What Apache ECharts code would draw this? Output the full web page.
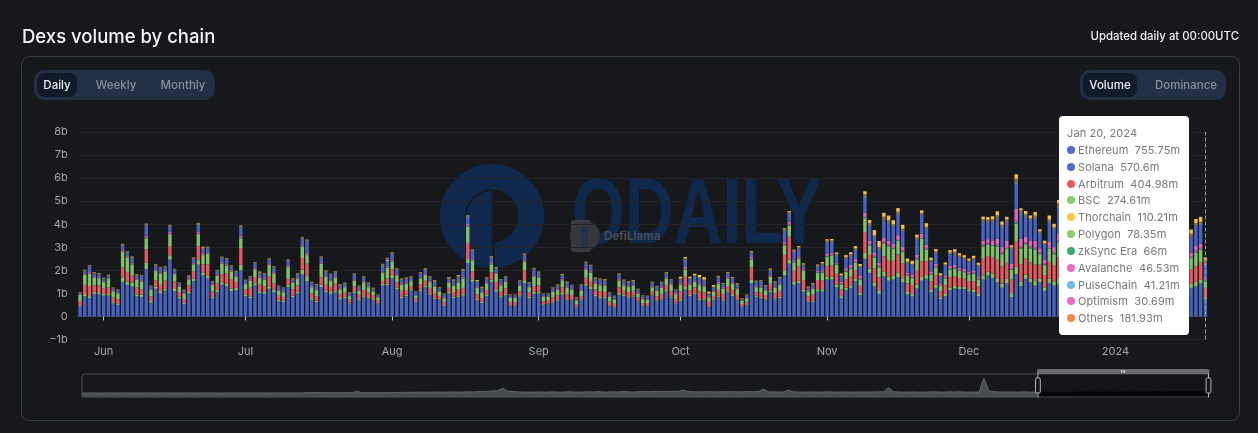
<!DOCTYPE html>
<html><head><meta charset="utf-8">
<style>html,body{margin:0;padding:0;background:#16181c;}#c{width:1258px;height:433px;}</style>
<script src="https://cdn.jsdelivr.net/npm/echarts@6/dist/echarts.min.js"></script>
</head><body><div id="c"></div>
<script>
const startDate = Date.UTC(2023, 4, 27);
const categories = [];
for (let i = 0; i < 239; i++) categories.push(new Date(startDate + i * 864e5).toISOString().slice(0, 10));
const monthLabels = {'2023-06-01':'Jun','2023-07-01':'Jul','2023-08-01':'Aug','2023-09-01':'Sep','2023-10-01':'Oct','2023-11-01':'Nov','2023-12-01':'Dec','2024-01-01':'2024'};

const ethereum = [
450,870,800,980,970,900,900,560,500,1500,
1370,1300,880,850,2060,600,1200,1000,1120,2460,
1100,780,530,1000,1530,2250,1780,1650,780,1050,
1380,1300,1100,1130,2000,880,800,1340,1020,980,
1200,1050,660,620,1270,840,1000,1820,1530,720,
620,1270,1050,980,1050,740,800,560,1020,690,
850,780,700,520,1340,1350,1670,1170,790,880,
1120,620,1100,1270,940,760,700,450,1000,800,
850,900,2320,1500,700,580,880,1500,1070,820,
920,450,450,860,1450,790,980,1000,500,530,
590,680,950,700,700,390,690,1340,1190,880,
780,800,450,390,940,890,780,860,650,450,
450,910,660,730,1080,810,560,680,1170,880,
980,700,700,420,700,850,680,1050,880,700,
420,500,1450,850,790,700,1050,730,790,1780,
2290,1380,1450,1070,620,630,1090,1080,1600,1600,
1270,800,1140,1240,1530,920,2500,1890,1310,980,
1740,1550,1600,1700,1480,950,860,1210,1550,1640,
1050,1240,750,880,1140,1210,1180,1190,1090,1050,
880,1600,1770,1670,1480,1250,1450,830,1830,1310,
1630,1480,1340,1480,1110,1450,1340,1400,1300,1250,
1150,1380,1500,1420,1280,1100,1050,1330,1460,1400,
1520,1610,1480,1260,1180,1440,1550,1620,1500,1340,
1200,1130,1360,1450,1380,1240,1310,1450,755.75];
const polygon = [
40,100,80,90,80,80,70,60,70,170,
140,170,80,100,260,70,100,100,80,190,
90,80,60,60,100,190,130,110,60,90,
100,110,100,110,240,80,70,100,80,100,
110,120,70,70,110,70,80,210,220,70,
70,110,80,80,70,60,60,40,70,60,
70,60,50,40,70,80,130,90,60,70,
60,40,60,70,60,50,40,40,60,60,
70,90,170,110,60,50,60,90,80,60,
60,30,30,60,120,60,90,70,30,30,
40,40,70,50,40,30,50,90,90,50,
60,50,30,30,80,50,50,50,30,30,
30,40,40,50,60,50,30,70,110,50,
50,60,50,30,50,60,40,50,50,40,
20,30,150,50,60,40,60,50,60,220,
170,120,100,80,40,50,90,100,120,120,
120,80,110,110,110,90,260,190,170,160,
190,180,170,210,180,110,110,170,170,160,
100,130,80,100,120,110,100,90,90,110,
90,180,170,190,180,180,180,180,320,200,
180,170,190,170,150,200,180,260,180,170,
150,190,210,190,170,140,130,180,200,190,
210,220,200,160,150,190,210,230,200,180,
150,140,180,200,190,170,190,160,78.35];
const arbitrum = [
180,400,440,270,300,230,300,200,170,450,
420,300,300,220,600,210,270,270,350,380,
320,200,170,290,320,610,350,500,240,300,
350,470,420,250,720,210,380,270,280,230,
420,260,170,160,250,270,260,500,540,210,
180,310,250,220,300,160,200,130,220,190,
230,190,150,120,130,220,240,220,260,200,
140,120,220,210,240,210,150,120,180,200,
240,240,700,350,200,170,210,310,340,190,
240,150,140,160,430,200,240,280,130,120,
190,200,240,210,190,110,150,250,250,240,
240,210,170,130,240,190,210,200,140,100,
100,120,170,200,220,240,170,340,440,210,
230,330,280,180,140,240,260,220,220,190,
100,110,520,150,180,190,310,220,260,670,
1000,480,620,430,220,270,400,380,470,500,
460,280,370,380,370,320,900,590,600,560,
680,690,640,780,640,380,390,600,680,600,
370,420,270,370,430,430,390,360,350,370,
340,720,680,700,800,730,700,590,1100,760,
700,700,720,600,540,720,680,900,680,640,
560,720,790,740,650,520,480,690,760,720,
800,850,770,610,570,740,820,880,780,680,
580,530,690,760,710,620,680,720,404.98];
const bsc = [
260,440,540,350,310,280,370,270,260,680,
610,480,340,340,470,280,400,470,400,540,
320,240,220,260,310,520,400,470,280,320,
460,320,330,230,430,230,310,340,310,290,
500,410,220,200,510,270,300,490,370,270,
270,590,330,250,270,220,210,150,230,190,
330,240,180,150,340,460,340,300,270,280,
210,130,260,250,250,260,180,180,230,260,
300,420,700,470,290,240,270,360,350,280,
290,180,180,240,380,220,420,320,190,170,
240,240,310,290,230,160,230,360,370,260,
270,280,200,180,290,220,240,220,180,170,
150,200,240,270,290,280,210,290,320,240,
250,270,260,200,190,270,230,310,280,250,
130,150,350,220,220,200,300,240,280,420,
480,340,320,410,210,250,300,340,400,420,
380,230,310,320,310,270,600,400,480,430,
550,620,520,580,490,320,300,490,960,500,
300,340,220,290,350,320,300,280,270,320,
280,540,500,500,560,540,600,420,780,680,
620,600,640,450,420,560,500,640,520,480,
420,560,600,560,500,400,380,530,570,540,
620,640,580,460,430,570,610,660,590,520,
440,400,530,570,540,500,580,560,274.61];
const zksync = [
10,15,15,15,15,10,15,10,10,20,
20,20,15,15,25,10,15,15,15,20,
15,10,10,15,15,25,20,15,10,15,
15,20,15,15,25,10,15,15,15,15,
15,15,10,10,15,15,15,20,20,10,
10,15,15,15,15,10,10,10,15,10,
15,10,10,10,15,15,20,15,15,15,
10,10,15,15,15,15,10,10,15,15,
15,20,25,20,15,10,15,20,15,15,
15,10,10,15,20,15,15,15,10,10,
10,15,15,15,10,10,15,15,20,15,
15,15,10,10,15,15,15,15,10,10,
10,15,15,15,15,15,10,20,25,15,
15,20,20,15,15,15,15,20,15,15,
10,10,25,15,20,15,20,15,20,35,
40,30,30,25,15,20,25,25,30,30,
30,20,25,30,25,25,45,40,35,35,
40,40,35,40,35,25,25,35,40,35,
25,25,20,25,30,30,25,25,25,25,
25,40,40,40,45,40,40,35,60,45,
40,40,45,35,35,40,40,50,45,40,
35,45,50,45,40,35,35,40,45,45,
50,50,45,40,35,45,50,50,45,40,
35,35,40,45,45,40,45,45,66];
const optimism = [
15,25,25,25,20,20,25,20,15,35,
30,30,25,25,40,20,25,25,25,35,
25,20,20,20,25,35,30,25,20,25,
25,30,25,25,40,20,25,25,25,25,
25,30,20,20,30,20,25,35,35,20,
20,30,25,25,25,20,20,15,25,20,
25,20,20,15,25,30,30,25,25,25,
20,15,25,25,25,25,20,20,25,25,
25,30,40,30,25,20,25,30,25,25,
25,15,15,25,30,20,30,25,15,15,
20,20,25,25,20,15,20,30,30,25,
25,25,20,15,25,25,25,20,20,15,
15,20,20,25,25,25,20,25,35,25,
25,25,25,20,20,25,25,25,25,25,
15,15,35,25,25,20,30,25,25,40,
45,35,35,30,20,25,30,30,35,35,
30,30,30,30,30,30,50,40,40,40,
45,40,40,45,40,30,30,40,40,40,
30,30,25,30,30,30,30,30,30,30,
30,40,40,40,50,45,45,40,70,50,
45,45,50,40,40,45,45,50,45,40,
35,45,50,45,40,35,35,40,45,45,
50,50,45,40,35,45,50,50,45,40,
35,35,40,45,45,40,45,40,30.69];
const avalanche = [
15,25,30,25,25,20,20,20,20,40,
35,35,25,25,50,20,30,30,25,45,
25,20,20,20,30,50,35,30,20,25,
30,35,30,30,55,20,25,30,25,30,
30,35,20,20,30,25,25,45,45,20,
20,30,25,25,25,20,20,15,25,20,
25,20,20,15,30,35,40,30,25,25,
20,15,25,25,25,25,20,20,25,25,
30,35,50,35,25,20,25,35,30,25,
25,15,15,25,40,25,30,30,15,15,
20,20,30,25,20,15,25,35,35,25,
25,25,20,15,30,25,25,25,20,15,
15,20,25,25,30,25,20,30,45,25,
25,35,30,20,20,30,25,30,30,25,
15,20,45,25,25,25,35,25,30,70,
80,50,55,40,25,25,40,45,60,60,
30,70,110,120,110,100,150,130,150,130,
180,170,150,170,150,90,90,130,150,130,
80,90,60,80,100,100,90,90,80,90,
90,160,150,160,260,240,260,180,500,320,
250,240,300,180,170,240,220,300,220,200,
170,240,260,240,200,150,140,210,250,230,
260,280,250,190,170,240,270,290,250,220,
180,160,220,240,230,150,200,180,46.53];
const solana = [
20,70,220,90,80,70,50,60,70,150,
110,180,90,150,410,70,150,160,100,200,
90,70,70,40,150,260,170,140,70,120,
150,170,120,110,340,80,60,160,90,130,
140,180,110,100,180,80,90,230,470,120,
160,160,140,180,130,90,80,70,180,100,
130,90,50,30,210,200,220,160,120,130,
80,90,140,140,100,140,90,100,80,130,
160,210,280,300,170,120,140,180,150,140,
100,50,60,110,170,100,220,120,60,60,
90,110,120,120,100,50,140,170,170,120,
140,120,90,80,160,100,100,90,90,80,
80,120,90,120,110,110,100,140,300,170,
170,200,170,80,110,180,110,130,130,110,
30,60,160,140,180,110,170,130,150,460,
320,340,320,110,70,90,170,240,490,450,
320,230,400,380,380,350,650,650,600,560,
750,750,720,860,660,400,400,640,800,680,
420,470,300,410,490,490,440,410,400,450,
420,820,720,780,880,820,800,620,1100,1100,
860,860,950,620,600,800,740,1100,780,740,
640,840,900,850,740,600,560,800,870,830,
920,980,890,710,660,860,930,1010,900,790,
680,620,810,870,830,690,860,820,570.6];
const pulsechain = [
5,10,10,10,10,5,5,5,5,15,
10,10,5,10,15,5,10,10,5,15,
10,5,5,5,10,15,10,10,5,10,
10,10,10,10,15,5,5,10,10,10,
10,10,5,5,10,5,5,15,15,5,
5,10,10,10,10,5,5,5,10,5,
10,5,5,5,50,80,25,15,10,10,
10,5,10,10,10,10,5,5,10,10,
10,10,15,15,10,5,10,10,10,10,
10,5,5,10,10,5,10,10,5,5,
5,5,10,10,5,5,10,10,10,5,
10,10,5,5,10,5,5,10,5,5,
5,5,10,10,10,5,5,10,15,5,
5,10,10,5,5,10,5,10,10,5,
5,5,15,10,10,5,10,10,10,20,
20,15,15,10,5,10,10,10,15,15,
15,10,15,15,15,10,25,20,20,20,
20,25,20,25,20,15,15,20,20,20,
15,15,10,15,15,15,15,15,15,15,
15,20,20,25,25,25,25,20,35,25,
20,25,25,20,20,25,25,30,25,25,
20,25,30,25,25,20,20,25,25,25,
30,30,25,20,20,25,30,30,25,25,
20,20,25,25,25,20,25,25,41.21];
const others = [
40,60,60,55,55,50,50,45,45,70,
65,60,50,50,80,45,55,55,50,70,
50,45,45,50,55,75,60,60,45,50,
55,55,50,50,75,45,50,55,50,50,
55,55,45,45,55,45,50,65,70,45,
45,55,50,50,50,40,45,40,50,45,
50,45,40,40,55,60,60,50,45,45,
45,35,50,50,45,45,40,40,45,45,
50,55,80,65,45,40,45,55,50,45,
45,35,35,45,60,45,55,50,35,35,
40,40,50,45,40,35,40,55,55,45,
50,45,40,35,50,45,45,45,40,35,
35,40,40,45,50,45,40,50,60,45,
45,50,50,35,40,50,45,50,45,45,
30,35,60,45,45,40,50,45,50,80,
85,65,65,55,40,45,55,60,70,70,
60,50,70,70,70,70,120,110,110,100,
130,110,100,130,110,60,60,90,80,90,
60,60,50,60,70,70,70,70,70,70,
70,100,100,110,110,110,110,90,180,120,
100,110,110,90,90,120,110,180,110,100,
90,110,120,110,100,80,80,110,120,110,
120,130,110,90,90,120,120,140,110,100,
90,80,100,120,110,120,110,110,181.93];
const thorchain = [
10,10,10,15,20,15,10,10,10,15,
15,15,20,15,15,10,15,15,15,20,
15,10,10,15,15,20,40,15,10,15,
15,15,15,20,15,10,15,15,40,20,
15,15,10,10,15,15,20,15,15,10,
10,15,15,15,15,25,15,15,15,10,
15,15,20,10,15,15,15,15,20,15,
20,10,20,20,20,25,15,10,30,30,
40,35,15,15,40,30,20,20,25,15,
15,10,10,15,15,15,15,25,10,10,
15,15,25,20,15,15,15,20,20,20,
25,30,15,10,20,30,25,30,15,10,
10,15,15,15,25,15,15,70,60,60,
60,100,110,70,70,30,20,30,30,30,
15,15,30,20,20,20,40,25,30,30,
40,40,40,40,30,30,40,50,60,60,
60,60,80,90,100,90,130,120,230,260,
170,200,180,160,170,130,130,120,110,150,
100,100,90,80,100,110,100,100,90,100,
90,110,120,130,170,140,110,80,190,80,
130,110,160,100,110,180,140,140,130,140,
110,160,170,150,120,110,100,140,160,150,
180,190,170,120,110,160,170,200,170,130,
120,110,150,160,150,180,180,210,110.21];

/* all-time overview shown behind the range slider */
const historyValues = [
.1,.1,.2,.1,.1,.2,.1,.1,.2,.1,.1,.2,.1,.2,.1,.1,.2,.1,.1,.2,
.1,.2,.1,.1,.2,.1,.2,.1,.1,.2,.1,.2,.1,.2,.2,.1,.2,.1,.2,.2,
.2,.1,.2,.2,.2,.5,.6,.5,.5,.4,.4,.4,.4,.5,.4,1.8,.4,.4,.4,.5,
.4,.5,.5,.6,.7,.8,.8,1.0,.9,.8,1.0,1.1,1.0,.9,1.2,1.1,1.0,1.3,1.2,1.5,
1.6,1.8,2.2,2.4,5.0,2.0,1.6,1.3,1.1,1.0,1.0,1.2,1.1,1.0,1.3,1.1,1.0,1.4,1.2,1.0,
1.1,1.3,1.2,1.5,1.2,1.1,1.3,1.2,1.6,1.3,1.2,1.4,1.7,1.4,1.5,1.8,1.6,1.5,2.0,1.7,
3.0,1.6,1.4,1.2,1.3,1.5,1.2,1.3,1.4,1.3,1.5,1.2,1.4,1.6,1.4,1.5,4.0,1.3,1.2,1.2,
1.2,3.0,1.3,1.1,1.0,1.1,1.2,1.0,1.1,1.3,1.0,1.1,1.2,1.0,1.1,1.2,1.0,1.2,1.2,1.3,
1.4,5.5,1.4,1.2,1.0,1.1,1.2,1.0,.9,1.2,1.4,1.1,1.0,1.3,1.2,1.4,1.2,1.0,1.1,1.0,
15,2.2,1.5,1.2,1.1,1.1,1.2,1.0,1.3,1.1,1.0,.8,.9,1.0,.8,1.1,.9,1.0,1.0,1.1,
1.3,1.1,1.2,1.0,1.1,1.2,1.0,1.1,1.3,1.1,1.2,1.4,1.3,1.1,1.5,1.2,1.3,1.4,1.6,1.5,
1.4,1.7,1.5,1.6,1.4,1.2];

const seriesNames = ['Ethereum','Polygon','Arbitrum','BSC','zkSync Era','Optimism','Avalanche','Solana','PulseChain','Others','Thorchain'];
const seriesData = [ethereum,polygon,arbitrum,bsc,zksync,optimism,avalanche,solana,pulsechain,others,thorchain];
const barColors = ['#4863bb','#82c06c','#e2595f','#82c06c','#3b9e6c','#d966c0','#dc68bc','#4a63c2','#68b8e0','#85705f','#f8c045'];
const dotColors = {Ethereum:'#4f6bce',Polygon:'#8ccb6f',Arbitrum:'#ef5b60',BSC:'#8ccb6f','zkSync Era':'#3fa873',Optimism:'#e86cc8',Avalanche:'#e86cc8',Solana:'#4f6bce',PulseChain:'#6cbde6',Others:'#f58549',Thorchain:'#fcc84c'};
const yMin = -1000, yMax = 8000, yStep = 1000;

seriesData.forEach((a,i)=>{ if(a.length!==239) throw new Error(seriesNames[i]+' length '+a.length); });

const isMonthStart = (i, v) => !!monthLabels[v];
const fmtM = v => (Math.round(v*100)/100) + 'm';

const tooltipFormatter = params => {
  const idx = params[0].dataIndex;
  const rows = seriesNames.map((n,i)=>({n, v:seriesData[i][idx]}));
  const rest = rows.filter(r=>r.n!=='Others').sort((a,b)=>b.v-a.v);
  const list = rest.concat(rows.filter(r=>r.n==='Others'));
  const d = new Date(categories[idx]+'T00:00:00Z');
  const head = d.toLocaleDateString('en-US',{month:'short',day:'numeric',year:'numeric',timeZone:'UTC'});
  return '<div style="color:#777;font:11px/16.85px Inter,sans-serif;letter-spacing:.1px;white-space:nowrap">'+
    '<div>'+head+'</div>'+list.map(r=>'<div><span style="display:inline-block;width:8px;height:8px;border-radius:50%;margin-right:3px;background:'+dotColors[r.n]+'"></span>'+r.n+'&nbsp;&nbsp;'+fmtM(r.v)+'</div>').join('')+'</div>';
};

const TXT = (text,x,y,fill,font,align) => ({type:'text',z:-1,silent:true,style:{text,x,y,fill,font,textAlign:align||'left',textVerticalAlign:'middle'}});
const RR = (x,y,w,h,r,fill,stroke) => ({type:'rect',z:-5,silent:true,shape:{x,y,width:w,height:h,r},style:{fill:fill||'transparent',stroke:stroke||null,lineWidth:1}});
const logoColor = '#11284d', bg = '#16181c';

const graphic = [
  RR(21.5,56.5,1218,364,8,'transparent','#3d3f47'),
  TXT('Dexs volume by chain',22,37,'#f4f4f5','500 18.5px Inter'),
  TXT('Updated daily at 00:00UTC',1239,37,'#f0f0f2','500 11.4px Inter','right'),
  RR(34,70,181,30,10,'#222f44'),
  RR(37,73,40,24,8,'#111a28'),
  TXT('Daily',57,85.5,'#eceef2','500 11.5px Inter','center'),
  TXT('Weekly',116,85.5,'#8b919c','500 11.5px Inter','center'),
  TXT('Monthly',183,85.5,'#8b919c','500 11.5px Inter','center'),
  RR(1080,70,146,30,10,'#222f44'),
  RR(1083,73,54,24,8,'#111a28'),
  TXT('Volume',1110,85.5,'#eceef2','500 11.5px Inter','center'),
  TXT('Dominance',1186,85.5,'#8b919c','500 11.5px Inter','center'),
  /* ODAILY watermark */
  {type:'circle',z:-3,silent:true,shape:{cx:492,cy:216,r:52},style:{fill:logoColor}},
  {type:'sector',z:-3,silent:true,shape:{cx:492,cy:216,r:26.5,r0:0,startAngle:-Math.PI/2,endAngle:Math.PI/2},style:{fill:bg}},
  {type:'arc',z:-3,silent:true,shape:{cx:492,cy:216,r:26,startAngle:Math.PI,endAngle:Math.PI*1.5},style:{stroke:bg,lineWidth:1.4,fill:null}},
  {type:'rect',z:-3,silent:true,shape:{x:492,y:240,width:3,height:27},style:{fill:bg}},
  {type:'rect',z:-3,silent:true,shape:{x:465.5,y:216,width:1.4,height:54},style:{fill:bg}},
  {type:'text',z:-3,silent:true,x:572,y:218,scaleX:.77,scaleY:1.05,style:{text:'ODAILY',x:0,y:0,fill:logoColor,font:'bold 88px "Liberation Sans Narrow","Liberation Sans"',textAlign:'left',textVerticalAlign:'middle'}},
  /* DefiLlama watermark */
  {type:'rect',z:-2,silent:true,shape:{x:571,y:220,width:20,height:32,r:3},style:{fill:'#3b3d42'}},
  {type:'circle',z:-2,silent:true,shape:{cx:585,cy:236,r:15},style:{fill:'#35373c'}},
  {type:'rect',z:-2,silent:true,shape:{x:581,y:226,width:7,height:22,r:3},style:{fill:'#23304a'}},
  TXT('DefiLlama',604,237,'#494d55','700 11.5px Inter')
];

const series = seriesNames.map((name,i)=>({
  name, type:'bar', stack:'vol', data:seriesData[i], barWidth:'72%',
  xAxisIndex:0, yAxisIndex:0, z:3,
  itemStyle:{color:barColors[i]}, emphasis:{disabled:true}
}));
series.push({name:'All time', type:'line', xAxisIndex:1, yAxisIndex:1, data:historyValues,
  showSymbol:false, silent:true, lineStyle:{opacity:0}, tooltip:{show:false}});

const chart = echarts.init(document.getElementById('c'), null, {renderer:'canvas'});
chart.setOption({
  animation:false,
  backgroundColor:bg,
  textStyle:{fontFamily:'Inter'},
  graphic,
  grid:[
    {left:77.7,width:1130,top:132,height:207.5},
    {left:82,width:1126,top:374,height:24,show:false}
  ],
  xAxis:[
    {type:'category',gridIndex:0,data:categories,boundaryGap:true,
      axisLine:{onZero:true,lineStyle:{color:'#3f4450',width:1}},
      axisTick:{show:true,interval:isMonthStart,alignWithLabel:true,length:4,lineStyle:{color:'#bfc1c6'}},
      axisLabel:{interval:isMonthStart,margin:7,color:'#a4a6ab',fontSize:11,fontFamily:'Inter',formatter:v=>monthLabels[v]||'',hideOverlap:false},
      splitLine:{show:false},
      axisPointer:{show:true,type:'line',snap:true,label:{show:false},lineStyle:{type:'dashed',color:'#9a9ca2',width:1}}},
    {type:'category',gridIndex:1,show:false,data:historyValues.map((v,i)=>'d'+i),boundaryGap:false,axisPointer:{show:false}}
  ],
  yAxis:[
    {type:'value',gridIndex:0,min:yMin,max:yMax,interval:yStep,
      axisLine:{show:false},axisTick:{show:false},
      axisLabel:{margin:10,color:'#a4a6ab',fontSize:11,fontFamily:'Inter',formatter:v=>v===0?'0':(v<0?'\u2212'+(-v/1000):(v/1000))+'b'},
      splitLine:{lineStyle:{color:'#212329',width:1}}},
    {type:'value',gridIndex:1,show:false,axisPointer:{show:false}}
  ],
  dataZoom:[{
    type:'slider',xAxisIndex:1,filterMode:'none',start:84.7,end:100,
    left:79,right:51,top:369,height:24,
    showDetail:false,brushSelect:true,realtime:false,
    borderColor:'#4a4c52',borderRadius:3,backgroundColor:'transparent',
    fillerColor:'rgba(0,0,0,.15)',
    dataBackground:{lineStyle:{color:'#74777d',width:.7},areaStyle:{color:'#66686e',opacity:.65}},
    selectedDataBackground:{lineStyle:{color:'#08090b',width:.7},areaStyle:{color:'#050608',opacity:.9}},
    handleStyle:{color:'#15171b',borderColor:'#b4b6ba',borderWidth:1},
    moveHandleSize:5,moveHandleStyle:{color:'#686a6e',opacity:1},
    textStyle:{color:'transparent'}
  }],
  tooltip:{
    trigger:'axis',alwaysShowContent:true,showContent:true,transitionDuration:0,
    backgroundColor:'#ffffff',borderWidth:0,padding:[9,8,8,8],
    position:[1059,116],formatter:tooltipFormatter,
    extraCssText:'width:114px;height:202px;border-radius:4px;box-shadow:none;overflow:hidden;box-sizing:content-box;',
    axisPointer:{type:'line',label:{show:false},lineStyle:{type:'dashed',color:'#9a9ca2',width:1}}
  },
  series
});
chart.dispatchAction({type:'showTip',seriesIndex:0,dataIndex:238});
</script></body></html>
